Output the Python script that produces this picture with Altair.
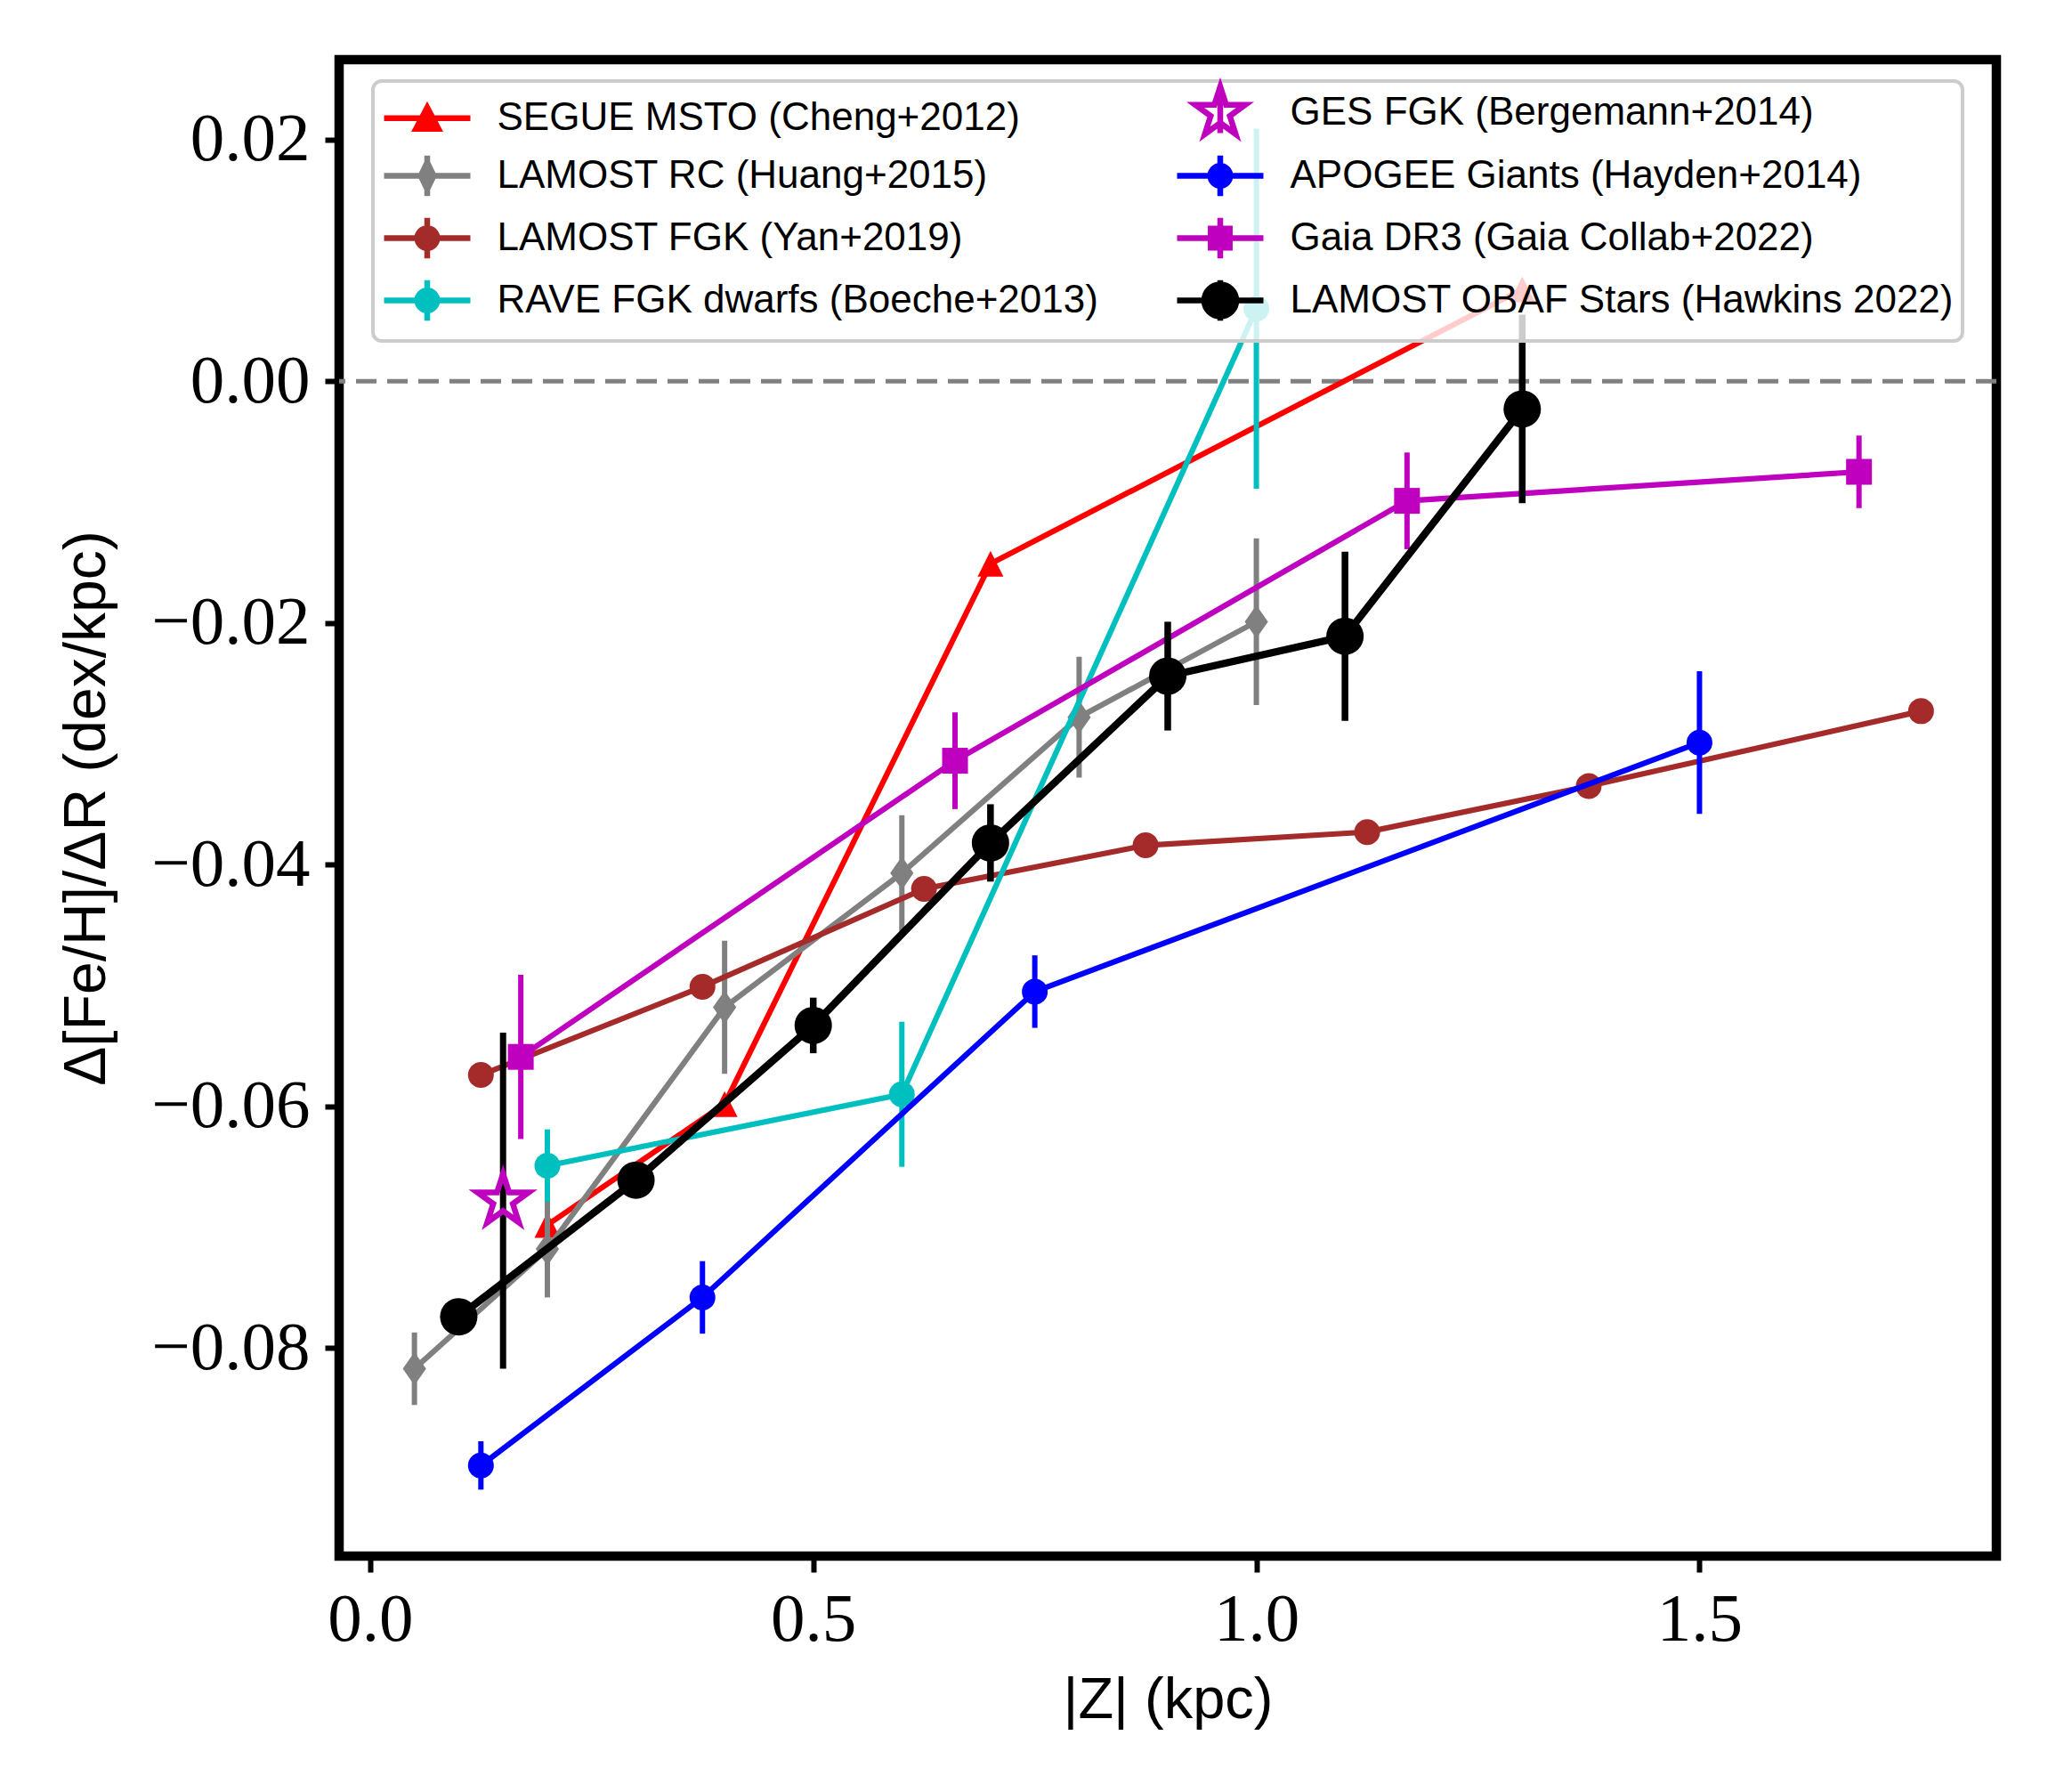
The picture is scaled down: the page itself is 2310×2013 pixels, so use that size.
import math
import altair as alt
import pandas as pd

# ---------------- data ----------------
labels = [
    "SEGUE MSTO (Cheng+2012)",
    "LAMOST RC (Huang+2015)",
    "LAMOST FGK (Yan+2019)",
    "RAVE FGK dwarfs (Boeche+2013)",
    "GES FGK (Bergemann+2014)",
    "APOGEE Giants (Hayden+2014)",
    "Gaia DR3 (Gaia Collab+2022)",
    "LAMOST OBAF Stars (Hawkins 2022)",
]

segue_z = [0.2, 0.4, 0.7, 1.3]
segue_v = [-0.0698, -0.0598, -0.0151, 0.0076]
segue_e = [0.0, 0.0, 0.0, 0.0]

huang_z = [0.05, 0.2, 0.4, 0.6, 0.8, 1.0]
huang_v = [-0.0817, -0.0718, -0.0518, -0.0407, -0.0278, -0.0199]
huang_e = [0.003, 0.004, 0.0055, 0.0048, 0.005, 0.0069]

yan_z = [0.125, 0.375, 0.625, 0.875, 1.125, 1.375, 1.75]
yan_v = [-0.0574, -0.0501, -0.0420, -0.0384, -0.0373, -0.0335, -0.0273]
yan_e = [0.0008, 0.0008, 0.0008, 0.0008, 0.0008, 0.0008, 0.0008]

rave_z = [0.2, 0.6, 1.0]
rave_v = [-0.0649, -0.0590, 0.0060]
rave_e = [0.003, 0.006, 0.0149]

ges_z = [0.15]
ges_v = [-0.0678]
ges_e = [0.0139]

apogee_z = [0.125, 0.375, 0.75, 1.5]
apogee_v = [-0.0897, -0.0758, -0.0505, -0.0299]
apogee_e = [0.002, 0.003, 0.003, 0.0059]

gaia_z = [0.17, 0.66, 1.17, 1.68]
gaia_v = [-0.0559, -0.0314, -0.0099, -0.0075]
gaia_e = [0.0068, 0.004, 0.004, 0.003]

obaf_z = [0.1, 0.3, 0.5, 0.7, 0.9, 1.1, 1.3]
obaf_v = [-0.0774, -0.0661, -0.0533, -0.0382, -0.0244, -0.0211, -0.0023]
obaf_e = [0.0012, 0.0012, 0.0023, 0.0032, 0.0045, 0.007, 0.0078]

x_ticks = [0.0, 0.5, 1.0, 1.5]
y_ticks = [-0.08, -0.06, -0.04, -0.02, 0.0, 0.02]
zero_level = [0.0]

series_values = [
    (segue_z, segue_v, segue_e),
    (huang_z, huang_v, huang_e),
    (yan_z, yan_v, yan_e),
    (rave_z, rave_v, rave_e),
    (ges_z, ges_v, ges_e),
    (apogee_z, apogee_v, apogee_e),
    (gaia_z, gaia_v, gaia_e),
    (obaf_z, obaf_v, obaf_e),
]

# ---------------- styles ----------------
colors = ["#ff0000", "#808080", "#a52a2a", "#00bfbf", "#bf00bf", "#0000ff", "#bf00bf", "#000000"]
err_colors = ["#ff0000", "#808080", "#a52a2a", "#00bfbf", "#000000", "#0000ff", "#bf00bf", "#000000"]
line_w = [6.2, 6.2, 6.2, 6.2, 0, 6.2, 6.2, 8.3]
err_w = [6, 6, 6, 6, 7, 6, 6, 7.5]


def star_pts(R, r):
    pts = []
    for k in range(10):
        ang = math.radians(-90 + 36 * k)
        rad = R if k % 2 == 0 else r
        pts.append((rad * math.cos(ang), rad * math.sin(ang)))
    return pts


def poly(pts, unit=1.0):
    return "M" + "L".join(f"{x / unit:.4f},{y / unit:.4f}" for x, y in pts) + "Z"


def circ(r, unit=1.0):
    r = r / unit
    return f"M{-r:.4f},0A{r:.4f},{r:.4f} 0 1,0 {r:.4f},0A{r:.4f},{r:.4f} 0 1,0 {-r:.4f},0Z"


TRI = "M0,-1L-1,1L1,1Z"
THIN_DIAMOND = "M0,-1L0.7,0L0,1L-0.7,0Z"
STAR = poly(star_pts(1.0, 0.382))

# marker: (shape, size, filled, strokeWidth)
markers = [
    (TRI, 841, True, 0),
    (THIN_DIAMOND, 1400, True, 0),
    ("circle", 841, True, 0),
    ("circle", 841, True, 0),
    (STAR, 3648, False, 6.5),
    ("circle", 841, True, 0),
    ("square", 841, True, 0),
    ("circle", 1764, True, 0),
]

# legend glyphs, drawn in pixel units around the symbol centre
U = 23.0                      # half of sqrt(symbolSize)
SYM_SIZE = (2 * U) ** 2
HALF_LINE = 48.5
HL = f"M{-HALF_LINE / U:.4f},0L{HALF_LINE / U:.4f},0"
EB = f"M0,{-22.8 / U:.4f}L0,{22.8 / U:.4f}"
legend_glyph = {
    labels[0]: HL + poly([(0, -12), (-12.6, 12), (12.6, 12)], U),
    labels[1]: HL + EB + poly([(0, -15), (7.3, 0), (0, 15), (-7.3, 0)], U),
    labels[2]: HL + EB + circ(11.2, U),
    labels[3]: HL + EB + circ(11.2, U),
    labels[4]: EB + poly(star_pts(29.5, 11.3), U),
    labels[5]: HL + EB + circ(11.2, U),
    labels[6]: HL + EB + poly([(-10.7, -10.7), (10.7, -10.7), (10.7, 10.7), (-10.7, 10.7)], U),
    labels[7]: HL + EB + circ(18, U),
}
legend_fill = {lab: c for lab, c in zip(labels, colors)}
legend_fill[labels[4]] = "#ffffff"
legend_stroke = {lab: c for lab, c in zip(labels, colors)}
legend_order = labels  # legend columns are filled top-to-bottom

# ---------------- table ----------------
rows = []
for lab, (zs, vs, es) in zip(labels, series_values):
    for z, v, e in zip(zs, vs, es):
        rows.append({"series": lab, "z": z, "v": v, "e": e, "lo": v - e, "hi": v + e})
df = pd.DataFrame(rows)

# ---------------- axes / scales ----------------
LABEL_FONT = "Liberation Serif"
TITLE_FONT = "Liberation Sans"

x_axis = alt.Axis(
    values=x_ticks, format=".1f", title="|Z| (kpc)", grid=False, domain=False,
    tickColor="black", tickWidth=6, tickSize=18,
    labelFont=LABEL_FONT, labelFontSize=77, labelColor="black", labelPadding=15,
    labelFlush=False, labelOverlap=False,
    titleFont=TITLE_FONT, titleFontSize=65, titleFontWeight="normal", titleColor="black",
    titleBaseline="alphabetic", titleY=181,
)
y_axis = alt.Axis(
    values=y_ticks, format=".2f", title="Δ[Fe/H]/ΔR (dex/kpc)", grid=False, domain=False,
    tickColor="black", tickWidth=6, tickSize=16,
    labelFont=LABEL_FONT, labelFontSize=77, labelColor="black", labelPadding=17,
    labelFlush=False, labelOverlap=False,
    titleFont=TITLE_FONT, titleFontSize=66, titleFontWeight="normal", titleColor="black",
    titleBaseline="alphabetic", titleX=-264,
)
x_scale = alt.Scale(domain=[-0.035, 1.835], nice=False, zero=False)
y_scale = alt.Scale(domain=[-0.0972, 0.0266], nice=False, zero=False)


def X(field="z"):
    return alt.X(f"{field}:Q", scale=x_scale, axis=x_axis)


def Y(field="v"):
    return alt.Y(f"{field}:Q", scale=y_scale, axis=y_axis)


layers = []

# dashed zero line
layers.append(
    alt.Chart(pd.DataFrame({"v": zero_level}))
    .mark_rule(color="#808080", strokeWidth=5, strokeDash=[23, 12])
    .encode(y=Y("v"))
)

for i, lab in enumerate(labels):
    sdf = df[df["series"] == lab]
    if len(sdf) > 1:
        layers.append(
            alt.Chart(sdf).mark_line(color=colors[i], strokeWidth=line_w[i])
            .encode(x=X(), y=Y(), order="z:Q")
        )
    edf = sdf[sdf["e"] > 0]
    if len(edf) > 0:
        layers.append(
            alt.Chart(edf).mark_rule(color=err_colors[i], strokeWidth=err_w[i])
            .encode(x=X(), y=Y("lo"), y2="hi:Q")
        )
    shape, size, filled, sw = markers[i]
    mk = dict(shape=shape, size=size, filled=filled, opacity=1, color=colors[i])
    if not filled:
        mk["strokeWidth"] = sw
    layers.append(alt.Chart(sdf).mark_point(**mk).encode(x=X(), y=Y()))

# invisible layer that only carries the legend
leg = alt.Legend(
    title=None, orient="none", legendX=38, legendY=24, columns=2,
    symbolSize=SYM_SIZE, symbolStrokeWidth=6.5, symbolOpacity=1,
    symbolOffset=HALF_LINE - U,
    labelFont=TITLE_FONT, labelFontSize=44, labelColor="black", labelLimit=3000,
    labelOffset=52, rowPadding=-3, columnPadding=75, padding=9,
    fillColor="rgba(255,255,255,0.8)", strokeColor="#cccccc", cornerRadius=10,
)
layers.append(
    alt.Chart(df).mark_point(opacity=0, filled=True)
    .encode(
        x=X(), y=Y(),
        fill=alt.Fill("series:N", scale=alt.Scale(domain=legend_order, range=[legend_fill[l] for l in legend_order]), legend=leg),
        stroke=alt.Stroke("series:N", scale=alt.Scale(domain=legend_order, range=[legend_stroke[l] for l in legend_order]), legend=leg),
        shape=alt.Shape("series:N", scale=alt.Scale(domain=legend_order, range=[legend_glyph[l] for l in legend_order]), legend=leg),
    )
)

chart = (
    alt.layer(*layers)
    .properties(
        width=1862, height=1681,
        autosize=alt.AutoSizeParams(type="none"),
        padding={"left": 373, "top": 59, "right": 40, "bottom": 240},
        background="white",
    )
    .configure_view(stroke="black", strokeWidth=10.5)
    .configure_legend(strokeWidth=4)
)

chart.save("out.html", embed_options={"renderer": "svg", "actions": False})
